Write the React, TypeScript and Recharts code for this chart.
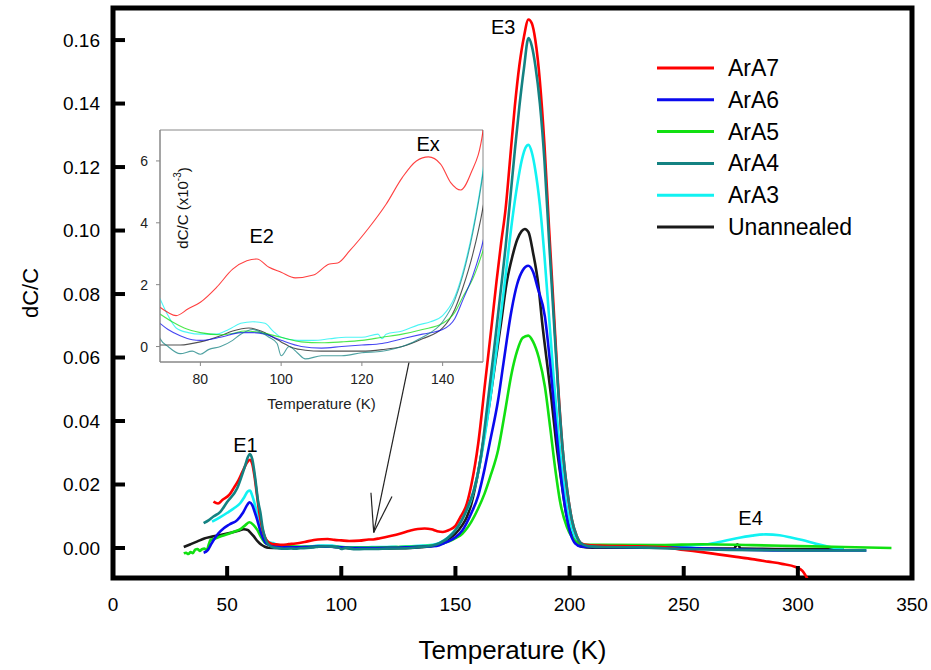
import React from 'react';
import { LineChart, Line, XAxis, YAxis, ReferenceArea, ReferenceLine, ReferenceDot, Label, CartesianGrid } from 'recharts';

type Pt = [number, number];

const FONT = '"Liberation Sans", Arial, sans-serif';

// axis ticks
const xTicks = [0, 50, 100, 150, 200, 250, 300, 350];
const yTicks = [0, 0.02, 0.04, 0.06, 0.08, 0.1, 0.12, 0.14, 0.16];
const insetXTicks = [80, 100, 120, 140];
const insetYTicks = [0, 2, 4, 6];

// [temperature K, dC/C]
const ara7: Pt[] = [
  [44, 0.0146], [46, 0.014], [48, 0.0152], [51, 0.0168], [53, 0.019], [55, 0.0214], [57, 0.0245], [59, 0.0272],
  [60, 0.0278], [61, 0.0265], [62, 0.0225], [63, 0.017], [64, 0.0115], [65, 0.0075], [66, 0.0045], [67, 0.0028],
  [68, 0.0019], [70, 0.00127], [72, 0.0011], [74, 0.001], [77, 0.00122], [80, 0.00143], [84, 0.00191], [88, 0.0025],
  [91.5, 0.00277], [94, 0.00283], [97, 0.00256], [100, 0.0024], [103.5, 0.00222], [108, 0.00231], [112, 0.00267],
  [114, 0.0027], [117, 0.0031], [121.5, 0.0038], [126, 0.0046], [130, 0.00546], [133.5, 0.006], [136.5, 0.00613],
  [139.5, 0.0059], [142, 0.0053], [144.5, 0.00506], [147, 0.0056], [150, 0.00697], [152, 0.0095], [155, 0.014],
  [157, 0.02], [160, 0.033], [163, 0.052], [166, 0.071], [168, 0.084], [170, 0.096], [172, 0.107], [174, 0.123],
  [176, 0.139], [178, 0.152], [180, 0.161], [182, 0.1665], [183.5, 0.1652], [185, 0.16], [187, 0.147], [189, 0.127],
  [191, 0.101], [193, 0.076], [195, 0.051], [197, 0.031], [199, 0.018], [201, 0.009], [203, 0.004], [205, 0.0015],
  [208, 0.0009], [215, 0.0007], [230, 0.0005], [242, 0.0002], [250, -0.0006], [258, -0.0013], [265, -0.002],
  [273, -0.0028], [280, -0.0035], [287, -0.0043], [293, -0.005], [299, -0.006], [302, -0.0072], [304.5, -0.0101],
];

const ara6: Pt[] = [
  [39.7, -0.0015], [41.6, -0.0006], [43, 0.0012], [44.1, 0.0025], [46, 0.0045], [48.5, 0.0062], [51, 0.0074],
  [54.4, 0.0088], [57, 0.0112], [59, 0.0138], [59.8, 0.0144], [61, 0.0135], [62, 0.0115], [63.2, 0.0088],
  [64.5, 0.0055], [66.1, 0.0025], [67.5, 0.0012], [70, 0.00075], [72, 0.00055], [75, 0.00035], [78, 0.00022],
  [80, 0.0002], [85, 0.0003], [90, 0.00045], [93, 0.00045], [96, 0.0004], [100, 0.0002], [105, 0.0], [110, -0.00005],
  [115, 0.0], [120, 0.00005], [125, 0.0001], [130, 0.00025], [135, 0.0004], [140, 0.00055], [143, 0.0009],
  [145, 0.0015], [147.5, 0.0023], [150, 0.0034], [153, 0.0055], [157, 0.011], [160, 0.0165], [162.8, 0.025],
  [165, 0.033], [168.7, 0.0466], [171, 0.058], [174.6, 0.075], [177, 0.083], [179.5, 0.0875], [181.9, 0.0889],
  [184, 0.087], [186, 0.082], [189.2, 0.0729], [191.5, 0.058], [193.6, 0.0414], [196, 0.024], [198, 0.013],
  [200, 0.0055], [202.4, 0.0015], [205, 0.0005], [210, 0.0003], [240, 0.0002], [260, -0.0002], [280, -0.0006],
  [300, -0.0008], [330, -0.0008],
];

const ara5: Pt[] = [
  [31, -0.0017], [32, -0.0015], [33, -0.0019], [34, -0.0013], [35, -0.0016], [36, -0.0005], [37, -0.0003],
  [38, -0.0009], [39, -0.0004], [40, -0.0002], [41, -0.0006], [42.7, 0.0025], [44, 0.0028], [47, 0.0036],
  [50, 0.0043], [52.9, 0.0051], [56, 0.006], [58, 0.0072], [59.8, 0.0081], [61.5, 0.0073], [63.2, 0.0057],
  [65, 0.0033], [66.8, 0.0015], [68.5, 0.0011], [70, 0.00105], [73, 0.0008], [76, 0.0006], [80, 0.00045],
  [85, 0.00038], [88, 0.00042], [91, 0.0005], [95, 0.00045], [100, 0.0003], [105, 0.00015], [110, 0.00012],
  [115, 0.00015], [120, 0.0002], [125, 0.0003], [130, 0.0004], [135, 0.00055], [140, 0.00075], [143, 0.0011],
  [145, 0.0016], [147.5, 0.0022], [150, 0.0031], [153, 0.0045], [157, 0.0083], [160, 0.0125], [162.8, 0.0172],
  [165.5, 0.023], [168.7, 0.0309], [171.5, 0.042], [174.6, 0.055], [177, 0.062], [179.5, 0.0662], [181.9, 0.0669],
  [184, 0.065], [186.5, 0.06], [189.2, 0.0508], [191.5, 0.038], [193.6, 0.0256], [196, 0.014], [198.8, 0.0067],
  [201, 0.0035], [203.9, 0.0015], [206, 0.0011], [215, 0.001], [240, 0.0009], [258, 0.0012], [280, 0.0009],
  [300, 0.0006], [320, 0.0003], [341, 0.0],
];

const ara4: Pt[] = [
  [39.7, 0.0078], [42, 0.0088], [44, 0.0099], [47, 0.0114], [50, 0.0145], [54.4, 0.0188], [57, 0.024], [58, 0.0262],
  [59, 0.0285], [60, 0.0296], [61, 0.028], [62.4, 0.0214], [63.5, 0.015], [64.6, 0.011], [65.5, 0.0065],
  [66.5, 0.0035], [67.6, 0.0015], [69, 0.0006], [70, 0.00026], [72, 0.0], [75, -0.00023], [78, -0.00015],
  [80, -0.00025], [82, -0.0001], [85, 0.0], [88, 0.0002], [90, 0.0004], [93, 0.00055], [97, 0.0003], [99, 0.0001],
  [100, -0.0003], [102, 0.0], [104, -0.0002], [106, -0.0004], [110, -0.0003], [115, -0.0003], [120, -0.0002],
  [125, -0.00015], [130, 0.0], [135, 0.0003], [140, 0.0008], [143, 0.0015], [145, 0.0023], [147.5, 0.0037],
  [150, 0.0056], [153, 0.009], [156, 0.014], [158, 0.018], [161, 0.028], [164, 0.045], [167, 0.063], [170, 0.082],
  [172, 0.095], [174, 0.11], [176, 0.125], [178, 0.139], [180, 0.151], [182, 0.1606], [183.5, 0.158], [185, 0.152],
  [187, 0.14], [189, 0.122], [191, 0.097], [193, 0.073], [195, 0.05], [197, 0.031], [199, 0.018], [201, 0.009],
  [203, 0.004], [205, 0.0015], [208, 0.0006], [215, 0.0003], [230, 0.0002], [250, -0.0003], [270, -0.0006],
  [290, -0.0007], [310, -0.0008], [330, -0.0008],
];

const ara3: Pt[] = [
  [43.4, 0.0083], [47, 0.0097], [50.7, 0.0114], [53, 0.0125], [55.7, 0.0141], [57.5, 0.016], [59, 0.0178],
  [60, 0.0181], [61, 0.0165], [62.4, 0.013], [64, 0.0085], [65.5, 0.0052], [67, 0.0025], [68, 0.0019],
  [70, 0.00155], [72, 0.001], [74, 0.0006], [77, 0.00045], [80, 0.0004], [84, 0.0004], [87, 0.00055], [90, 0.00075],
  [93, 0.0008], [96, 0.00075], [98, 0.0005], [100, 0.0003], [104, 0.0002], [108, 0.0002], [112, 0.00025],
  [116, 0.0003], [120, 0.0003], [124, 0.0004], [125, 0.00025], [126, 0.0004], [130, 0.0005], [134, 0.0007],
  [137, 0.0008], [140, 0.001], [143, 0.0016], [145, 0.0024], [147.5, 0.0038], [150, 0.0057], [153, 0.0092],
  [157, 0.0155], [160, 0.024], [163, 0.036], [166, 0.051], [169, 0.068], [172, 0.086], [175, 0.104], [177, 0.114],
  [179, 0.122], [181, 0.1265], [182, 0.127], [183.5, 0.1245], [185, 0.119], [187, 0.108], [189, 0.092], [191, 0.073],
  [193, 0.054], [195, 0.037], [197, 0.023], [199, 0.012], [201, 0.006], [203, 0.0025], [205, 0.001], [210, 0.0006],
  [230, 0.0006], [245, 0.0006], [258, 0.001], [265, 0.0018], [272.7, 0.003], [280, 0.0039], [286, 0.0043],
  [292, 0.004], [297, 0.0033], [302, 0.0025], [308, 0.0013], [314, 0.0003], [320, -0.0004],
];

const unannealed: Pt[] = [
  [31, 0.0003], [34, 0.0012], [37, 0.0021], [40, 0.003], [43, 0.0035], [47, 0.0041], [52, 0.0049], [55, 0.0054],
  [57.3, 0.0059], [59, 0.0057], [60, 0.005], [61.5, 0.0038], [63.5, 0.002], [65, 0.001], [66.5, 0.0004],
  [68, 0.0001], [70, 0.00005], [75, 0.00005], [80, 0.00015], [85, 0.00035], [88, 0.0005], [92, 0.0006],
  [95, 0.0005], [98, 0.0003], [100, 0.00015], [103, -0.00005], [106, -0.00012], [110, -0.00015], [115, -0.00015],
  [120, -0.00015], [125, -0.0001], [130, 0.0], [135, 0.00025], [140, 0.0006], [143, 0.0012], [145, 0.0019],
  [147.5, 0.003], [150, 0.0045], [153, 0.0072], [155, 0.0098], [157, 0.014], [158.4, 0.0183], [160.5, 0.026],
  [162.8, 0.0361], [165, 0.046], [167.2, 0.0571], [170, 0.071], [172.4, 0.0834], [175, 0.092], [177, 0.097],
  [179, 0.0998], [180.4, 0.1005], [182, 0.0995], [184, 0.093], [186.3, 0.083], [188, 0.071], [190, 0.059],
  [192.1, 0.0466], [194, 0.034], [196.5, 0.0205], [198.5, 0.011], [201, 0.0047], [203, 0.0015], [205.3, 0.0004],
  [210, 0.0001], [230, 0.0001], [250, 0.0], [265, -0.0002], [272, -0.0002], [273.5, 0.0012], [275, -0.0002],
  [290, -0.0003], [305, -0.0004], [320, -0.0004],
];

const series = [
  { name: 'ArA7', color: '#ff0000', pts: ara7 },
  { name: 'ArA6', color: '#0a0aee', pts: ara6 },
  { name: 'ArA5', color: '#11e011', pts: ara5 },
  { name: 'ArA4', color: '#148282', pts: ara4 },
  { name: 'ArA3', color: '#11f2f2', pts: ara3 },
  { name: 'Unannealed', color: '#1a1a1a', pts: unannealed },
];
const drawOrder = ['Unannealed', 'ArA3', 'ArA5', 'ArA6', 'ArA7', 'ArA4'];

// annotations, in data units
const mainLabels = [
  { text: 'E1', t: 58, v: 0.0324 },
  { text: 'E3', t: 170.9, v: 0.1642 },
  { text: 'E4', t: 279.3, v: 0.0094 },
];
const insetLabels = [
  { text: 'E2', t: 95.2, v: 3.58 },
  { text: 'Ex', t: 136.4, v: 6.54 },
];
const arrowShaft = [{ x: 129.7, y: 0.0586 }, { x: 114.2, y: 0.0049 }];
const arrowHeadL = [{ x: 113.0, y: 0.0174 }, { x: 114.2, y: 0.0049 }];
const arrowHeadR = [{ x: 122.2, y: 0.0162 }, { x: 114.2, y: 0.0049 }];

const yMin = -0.00945;
const yMax = 0.1701;

const rows = (pts: Pt[]) => pts.map(([t, v]) => ({ t, v }));
const insetRows = (pts: Pt[]) => pts.filter(([t]) => t >= 69 && t <= 155).map(([t, v]) => ({ t, v: v * 1000 }));

const byName = (n: string) => series.find((s) => s.name === n)!;

export default function App() {
  return (
    <div style={{ position: 'absolute', left: 0, top: 0, width: 931, height: 670, background: '#fff', overflow: 'hidden', fontFamily: FONT }}>
      <div style={{ position: 'absolute', left: 0, top: 0 }}>
        <LineChart width={931} height={670} margin={{ top: 8, right: 19, bottom: 32, left: 53 }}>
          <XAxis
            type="number" dataKey="t" domain={[0, 350]} ticks={xTicks} interval={0} allowDataOverflow height={60}
            axisLine={false} tickLine={{ stroke: '#000', strokeWidth: 4 }} tickSize={-12} tickMargin={32}
            tick={{ fontSize: 19, fill: '#000', fontFamily: FONT }}
          >
            <Label value="Temperature (K)" position="bottom" offset={3} fontSize={26} fill="#000" fontFamily={FONT} />
          </XAxis>
          <YAxis
            type="number" domain={[yMin, yMax]} ticks={yTicks} interval={0} allowDataOverflow width={60}
            axisLine={false} tickLine={{ stroke: '#000', strokeWidth: 4 }} tickSize={-12} tickMargin={25}
            tickFormatter={(v: number) => v.toFixed(2)}
            tick={{ fontSize: 19, fill: '#000', fontFamily: FONT }}
          >
            <Label
              content={(p: any) => {
                const vb = p.viewBox;
                const cx = vb.x - 23;
                const cy = vb.y + vb.height / 2;
                return (
                  <text x={cx} y={cy} transform={`rotate(-90 ${cx} ${cy})`} textAnchor="middle" dominantBaseline="central" fontSize={22} fontFamily={FONT} fill="#000">
                    dC/C
                  </text>
                );
              }}
            />
          </YAxis>
          {drawOrder.map((n) => {
            const s = byName(n);
            return (
              <Line key={n} data={rows(s.pts)} dataKey="v" name={n} type="monotone" stroke={s.color}
                strokeWidth={2.6} dot={false} activeDot={false} isAnimationActive={false} />
            );
          })}
          <ReferenceLine segment={arrowShaft} stroke="#222" strokeWidth={1.2} ifOverflow="visible" />
          <ReferenceLine segment={arrowHeadL} stroke="#222" strokeWidth={1.2} ifOverflow="visible" />
          <ReferenceLine segment={arrowHeadR} stroke="#222" strokeWidth={1.2} ifOverflow="visible" />
          {mainLabels.map((l) => (
            <ReferenceDot key={l.text} x={l.t} y={l.v} r={1} fill="none" stroke="none"
              label={{ value: l.text, position: 'center', fontSize: 20, fill: '#000', fontFamily: FONT }} />
          ))}
          <ReferenceArea x1={0} x2={350} y1={yMin} y2={yMax} fill="none" stroke="#000" strokeWidth={5} ifOverflow="visible" />
        </LineChart>
      </div>

      {/* inset: 70-150 K, x10^-3 */}
      <div style={{ position: 'absolute', left: 110, top: 120 }}>
        <LineChart width={380} height={300} margin={{ top: 10, right: 7, bottom: 8, left: 20 }}>
          <CartesianGrid horizontal={false} vertical={false} fill="#fff" />
          <XAxis
            type="number" dataKey="t" domain={[70, 150]} ticks={insetXTicks} interval={0} allowDataOverflow height={50}
            axisLine={{ stroke: '#888' }} tickLine={{ stroke: '#888' }} tickSize={4} tickMargin={8}
            tick={{ fontSize: 14, fill: '#222', fontFamily: FONT }}
          >
            <Label value="Temperature (K)" position="insideBottom" offset={3} fontSize={15} fill="#222" fontFamily={FONT} />
          </XAxis>
          <YAxis
            type="number" domain={[-0.5, 7]} ticks={insetYTicks} interval={0} allowDataOverflow width={30}
            axisLine={{ stroke: '#888' }} tickLine={{ stroke: '#888' }} tickSize={4} tickMargin={8}
            tick={{ fontSize: 14, fill: '#222', fontFamily: FONT }}
          />
          {drawOrder.map((n) => {
            const s = byName(n);
            return (
              <Line key={n} data={insetRows(s.pts)} dataKey="v" name={n} type="monotone" stroke={s.color}
                strokeOpacity={0.75} strokeWidth={1.1} dot={false} activeDot={false} isAnimationActive={false} />
            );
          })}
          {insetLabels.map((l) => (
            <ReferenceDot key={l.text} x={l.t} y={l.v} r={1} fill="none" stroke="none"
              label={{ value: l.text, position: 'center', fontSize: 20, fill: '#000', fontFamily: FONT }} />
          ))}
          <ReferenceDot x={75.7} y={4.48} r={1} fill="none" stroke="none"
            label={{
              content: (p: any) => {
                const vb = p.viewBox;
                const cx = vb.x + (vb.width || 0) / 2;
                const cy = vb.y + (vb.height || 0) / 2;
                return (
                  <text x={cx} y={cy} transform={`rotate(-90 ${cx} ${cy})`} textAnchor="middle" dominantBaseline="central" fontSize={15} fontFamily={FONT} fill="#111">
                    dC/C (x10<tspan dy={-6} fontSize={10}>-3</tspan><tspan dy={6}>)</tspan>
                  </text>
                );
              },
            }} />
          <ReferenceArea x1={70} x2={150} y1={-0.5} y2={7} fill="none" stroke="#888" strokeWidth={1} ifOverflow="visible" />
        </LineChart>
      </div>

      {/* legend */}
      <svg width={931} height={670} style={{ position: 'absolute', left: 0, top: 0, pointerEvents: 'none' }}>
        {series.map((s, i) => {
          const y = 68 + i * 31.8;
          return (
            <g key={s.name}>
              <line x1={657} x2={714} y1={y} y2={y} stroke={s.color} strokeWidth={3} />
              <text x={728} y={y} dominantBaseline="central" fontSize={23} fontFamily={FONT} fill="#000">{s.name}</text>
            </g>
          );
        })}
      </svg>
    </div>
  );
}
